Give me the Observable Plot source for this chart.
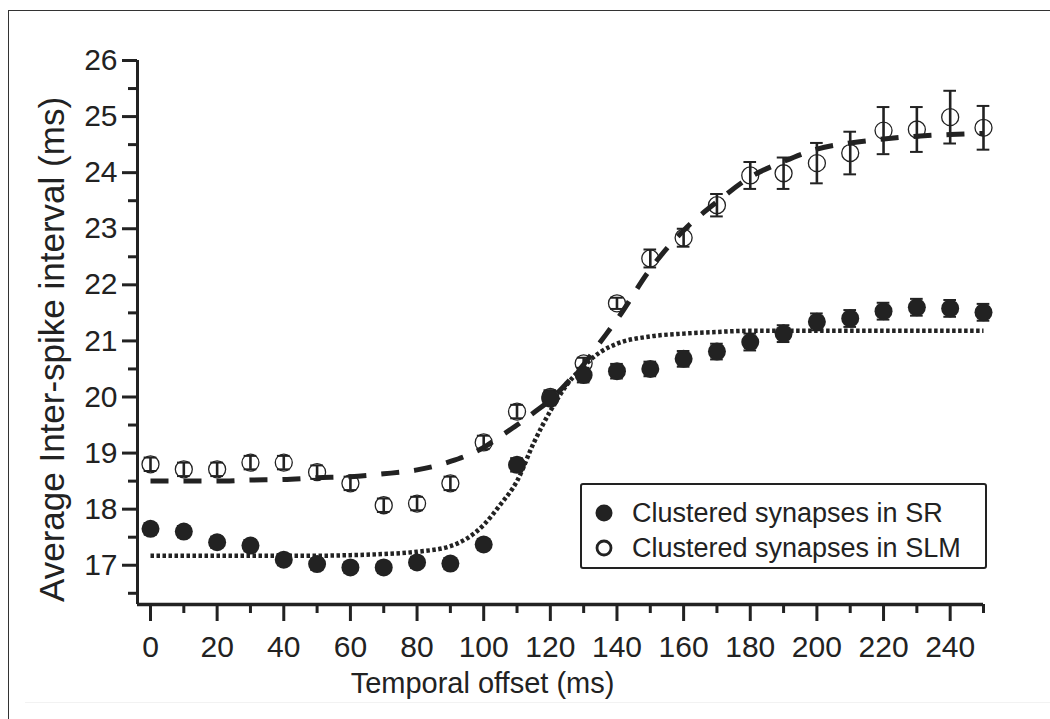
<!DOCTYPE html>
<html>
<head>
<meta charset="utf-8">
<script src="https://cdn.jsdelivr.net/npm/d3@7"></script>
<script src="https://cdn.jsdelivr.net/npm/@observablehq/plot@0.6"></script>
<style>
  html, body { margin: 0; padding: 0; background: #fff; }
  #wrap { position: relative; width: 1050px; height: 719px; overflow: hidden; font-family: "Liberation Sans", Arial, sans-serif; color: #222; }
  #border { position: absolute; left: 8px; top: 10px; width: 1100px; height: 800px; border-left: 1.5px solid #333; border-top: 1.5px solid #333; }
  #faint { position: absolute; left: 25px; top: 702px; width: 1100px; height: 0; border-top: 1px solid #f2f2f2; }
  #chart { position: absolute; left: 0; top: 0; }
  #legend { position: absolute; left: 580px; top: 483px; width: 403px; height: 82px; border: 2.5px solid #222; border-radius: 3px; background: #fff; }
  .row { position: absolute; left: 0; height: 30px; display: flex; align-items: center; font-size: 27px; }
  .row svg { margin-left: 12px; margin-right: 18px; }
</style>
</head>
<body>
<div id="wrap">
  <div id="border"></div>
  <div id="faint"></div>
  <div id="chart"></div>
  <div id="legend"></div>
</div>
<script>
// ---- data ----
const offsets = [0,10,20,30,40,50,60,70,80,90,100,110,120,130,140,150,160,170,180,190,200,210,220,230,240,250];
const srMean  = [17.65,17.6,17.41,17.35,17.1,17.02,16.96,16.96,17.05,17.03,17.37,18.79,19.97,20.39,20.46,20.5,20.68,20.81,20.98,21.13,21.34,21.4,21.53,21.6,21.58,21.51];
const srErr   = [0.1,0.1,0.1,0.1,0.1,0.1,0.1,0.1,0.1,0.1,0.1,0.12,0.12,0.13,0.13,0.13,0.14,0.14,0.15,0.15,0.15,0.15,0.15,0.15,0.15,0.15];
const slmMean = [18.8,18.71,18.71,18.83,18.83,18.66,18.46,18.07,18.1,18.46,19.19,19.74,20.0,20.6,21.67,22.47,22.84,23.42,23.95,23.99,24.17,24.35,24.75,24.77,24.99,24.8];
const slmErr  = [0.12,0.12,0.12,0.12,0.12,0.12,0.12,0.12,0.12,0.12,0.12,0.12,0.12,0.1,0.1,0.16,0.16,0.2,0.24,0.28,0.36,0.38,0.42,0.4,0.47,0.39];

const fitX   = [0,10,20,30,40,50,60,70,80,90,100,105,110,115,120,125,130,135,140,150,160,170,180,190,200,210,220,230,240,250];
const srFit  = [17.17,17.17,17.17,17.17,17.17,17.17,17.18,17.2,17.24,17.34,17.72,18.08,18.5,19.18,19.75,20.22,20.55,20.8,20.95,21.08,21.13,21.16,21.18,21.18,21.18,21.18,21.18,21.18,21.18,21.18];
const slmFit = [18.5,18.5,18.5,18.52,18.53,18.56,18.58,18.63,18.7,18.85,19.1,19.3,19.5,19.72,19.95,20.25,20.58,20.98,21.38,22.28,22.97,23.48,23.92,24.2,24.42,24.53,24.6,24.65,24.68,24.7];

const yMajor = [17,18,19,20,21,22,23,24,25,26];
const yMinor = [16.5,17.5,18.5,19.5,20.5,21.5,22.5,23.5,24.5,25.5];
const xMajor = [0,20,40,60,80,100,120,140,160,180,200,220,240];
const xMinor = [10,30,50,70,90,110,130,150,170,190,210,230,250];
const xDomain = [-3.9, 250];
const yDomain = [16.3, 26];

const xTitle = "Temporal offset (ms)";
const yTitle = "Average Inter-spike interval (ms)";
const seriesNames = ["Clustered synapses in SR", "Clustered synapses in SLM"];

// ---- tables ----
const sr = offsets.map((x, i) => ({x, y: srMean[i], e: srErr[i]}));
const slm = offsets.map((x, i) => ({x, y: slmMean[i], e: slmErr[i]}));
const srFitT = fitX.map((x, i) => ({x, y: srFit[i]}));
const slmFitT = fitX.map((x, i) => ({x, y: slmFit[i]}));

const ink = "#222";
const cap = 1.9; // half cap width in x units

const chart = Plot.plot({
  width: 1050,
  height: 719,
  marginLeft: 137,
  marginRight: 67,
  marginTop: 60,
  marginBottom: 115,
  x: {domain: xDomain},
  y: {domain: yDomain},
  style: {fontFamily: "'Liberation Sans', Arial, sans-serif", color: ink, background: "transparent", overflow: "visible"},
  marks: [
    Plot.axisY(yMajor, {tickSize: 15, tickPadding: 5, fontSize: 30, strokeWidth: 3, label: null, stroke: ink, tickFormat: d => String(d)}),
    Plot.axisY(yMinor, {tickSize: 9, text: null, strokeWidth: 3, label: null, stroke: ink}),
    Plot.axisX(xMajor, {tickSize: 17, tickPadding: 14, fontSize: 30, strokeWidth: 3, label: null, stroke: ink, tickFormat: d => String(d)}),
    Plot.axisX(xMinor, {tickSize: 9, text: null, strokeWidth: 3, label: null, stroke: ink}),
    Plot.ruleX([xDomain[0]], {y1: yDomain[0], y2: yDomain[1], strokeWidth: 3, stroke: ink}),
    Plot.ruleY([yDomain[0]], {x1: xDomain[0], x2: xDomain[1], strokeWidth: 3.5, stroke: ink}),

    // fitted curves
    Plot.line(slmFitT, {x: "x", y: "y", curve: "monotone-x", stroke: ink, strokeWidth: 5, strokeDasharray: "18,15", strokeLinecap: "butt"}),
    Plot.line(srFitT, {x: "x", y: "y", curve: "monotone-x", stroke: ink, strokeWidth: 4.5, strokeDasharray: "3.5,2.5", strokeLinecap: "butt"}),

    // SLM error bars + open circles
    Plot.ruleX(slm, {x: "x", y1: d => d.y - d.e, y2: d => d.y + d.e, stroke: ink, strokeWidth: 2.6}),
    Plot.ruleY(slm, {y: d => d.y + d.e, x1: d => d.x - cap, x2: d => d.x + cap, stroke: ink, strokeWidth: 2}),
    Plot.ruleY(slm, {y: d => d.y - d.e, x1: d => d.x - cap, x2: d => d.x + cap, stroke: ink, strokeWidth: 2}),
    Plot.dot(slm, {x: "x", y: "y", r: 8.5, stroke: ink, strokeWidth: 1.3, fill: "none"}),

    // SR error bars + filled circles
    Plot.ruleX(sr, {x: "x", y1: d => d.y - d.e, y2: d => d.y + d.e, stroke: ink, strokeWidth: 2.6}),
    Plot.ruleY(sr, {y: d => d.y + d.e, x1: d => d.x - cap, x2: d => d.x + cap, stroke: ink, strokeWidth: 2}),
    Plot.ruleY(sr, {y: d => d.y - d.e, x1: d => d.x - cap, x2: d => d.x + cap, stroke: ink, strokeWidth: 2}),
    Plot.dot(sr, {x: "x", y: "y", r: 9, fill: ink, stroke: "none"}),

    // titles
    Plot.text([yTitle], {frameAnchor: "left", textAnchor: "middle", rotate: -90, dx: -85, dy: 17, fontSize: 35, fill: ink}),
    Plot.text([xTitle], {frameAnchor: "bottom", textAnchor: "middle", dx: -78, dy: 88, fontSize: 29, fill: ink})
  ]
});
document.getElementById("chart").appendChild(chart);

// legend
const legend = document.getElementById("legend");
seriesNames.forEach((name, i) => {
  const row = document.createElement("div");
  row.className = "row";
  row.style.top = (i === 0 ? 13 : 48) + "px";
  const sym = i === 0
    ? '<svg width="20" height="20"><circle cx="10" cy="10" r="8.5" fill="' + ink + '"/></svg>'
    : '<svg width="20" height="20"><circle cx="10" cy="10" r="7" fill="none" stroke="' + ink + '" stroke-width="2.8"/></svg>';
  row.innerHTML = sym + '<span>' + name + '</span>';
  legend.appendChild(row);
});
</script>
</body>
</html>
